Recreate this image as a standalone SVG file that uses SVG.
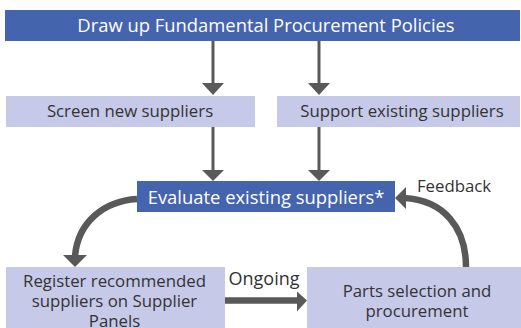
<svg xmlns="http://www.w3.org/2000/svg" width="521" height="328" viewBox="0 0 521 328">
<style>
.dark{fill:#4464ad}
.light{fill:#c7c9e8}
.wt{font-family:"Open Sans","Liberation Sans",sans-serif;font-size:18.4px;fill:#ffffff;text-anchor:middle}
.bt{font-family:"Open Sans","Liberation Sans",sans-serif;font-size:16.8px;fill:#333333;text-anchor:middle}
.thin{stroke:#595959;stroke-width:3;fill:none}
.thick{stroke:#595959;stroke-width:6.5;fill:none}
.head{fill:#595959}
</style>
<rect width="521" height="328" fill="#ffffff"/>
<g id="connectors">
<line class="thin" x1="213" y1="41" x2="213" y2="84"/>
<polygon class="head" points="202,83 224,83 213,95"/>
<line class="thin" x1="319" y1="41" x2="319" y2="84"/>
<polygon class="head" points="308,83 330,83 319,95"/>
<line class="thin" x1="213" y1="127" x2="213" y2="171"/>
<polygon class="head" points="202,170 224,170 213,181"/>
<line class="thin" x1="319" y1="127" x2="319" y2="171"/>
<polygon class="head" points="308,170 330,170 319,181"/>
<path class="thick" d="M137,199 C104,201 78,222 75,256"/>
<polygon class="head" points="63,255 87,255 75,267"/>
<path class="thick" d="M466,267 C466,228 444,200 404,198"/>
<polygon class="head" points="395,198 406,187 406,209"/>
<line class="thick" x1="225" y1="300.5" x2="298" y2="300.5"/>
<polygon class="head" points="297,291.5 307,300.5 297,311.5"/>
</g>
<g id="n-policies">
<rect class="dark" x="5" y="10" width="515" height="31"/>
<text class="wt" x="266" y="32">Draw up Fundamental Procurement Policies</text>
</g>
<g id="n-screen">
<rect class="light" x="6" y="96" width="249" height="31"/>
<text class="bt" x="130" y="117">Screen new suppliers</text>
</g>
<g id="n-support">
<rect class="light" x="277" y="96" width="243" height="31"/>
<text class="bt" x="402" y="117">Support existing suppliers</text>
</g>
<g id="n-evaluate">
<rect class="dark" x="137" y="181" width="258" height="31"/>
<text class="wt" x="266" y="204">Evaluate existing suppliers*</text>
</g>
<g id="n-register">
<rect class="light" x="6" y="267" width="219" height="61"/>
<text class="bt" x="114.5" y="287">Register recommended</text>
<text class="bt" x="114.5" y="307">suppliers on Supplier</text>
<text class="bt" x="114.5" y="327">Panels</text>
</g>
<g id="n-parts">
<rect class="light" x="307" y="267" width="214" height="61"/>
<text class="bt" x="417" y="297">Parts selection and</text>
<text class="bt" x="417" y="317">procurement</text>
</g>
<g id="labels">
<text class="bt" x="454" y="192">Feedback</text>
<text class="bt" x="264" y="285" style="font-size:18px">Ongoing</text>
</g>
</svg>
